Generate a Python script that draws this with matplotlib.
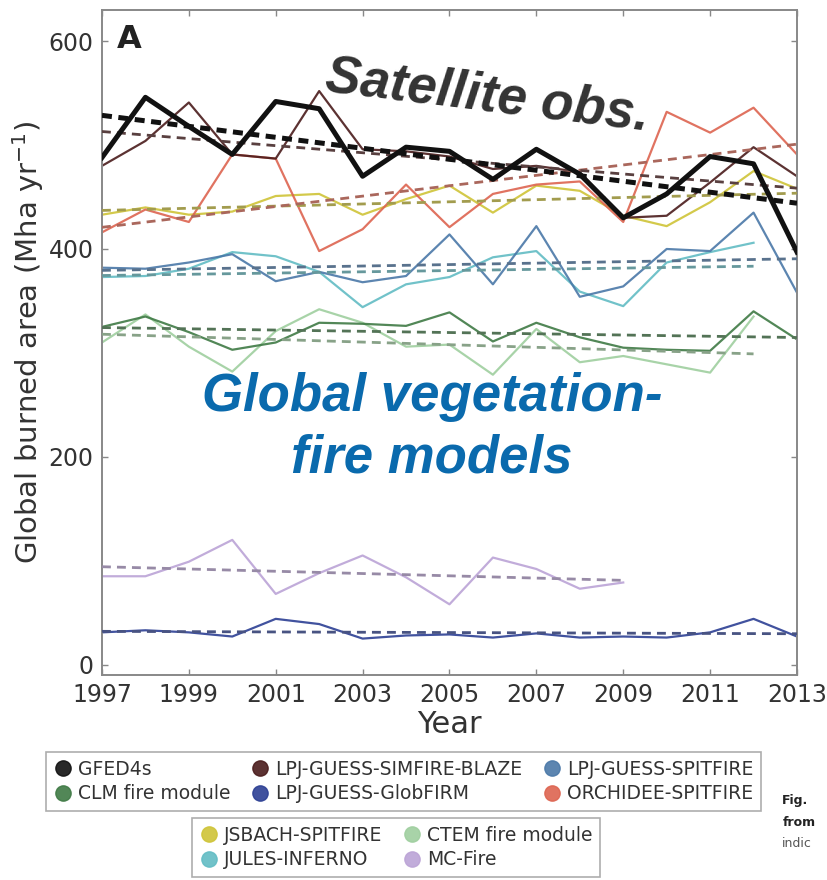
import numpy as np
import matplotlib
matplotlib.use("Agg")
import matplotlib.pyplot as plt
from matplotlib.lines import Line2D
from matplotlib.colors import to_rgb

# annual global burned area, Mha per year
years = np.arange(1997, 2014)

gfed4s        = [488, 546, 518, 491, 542, 535, 470, 498, 494, 467, 496, 472, 430, 453, 489, 482, 397]
simfire_blaze = [480, 504, 541, 491, 487, 552, 496, 494, 489, 477, 480, 474, 430, 432, 464, 498, 470]
orchidee      = [416, 438, 426, 491, 487, 398, 419, 462, 421, 453, 462, 465, 426, 532, 512, 536, 491]
jsbach        = [433, 440, 433, 436, 451, 453, 433, 448, 461, 435, 461, 456, 432, 422, 445, 475, 458]
lpj_spitfire  = [382, 381, 387, 395, 369, 378, 368, 374, 414, 366, 422, 354, 364, 400, 398, 435, 358]
jules         = [373, 374, 381, 397, 393, 378, 344, 366, 373, 392, 398, 359, 345, 387, 397, 406]
clm           = [325, 335, 320, 303, 310, 329, 328, 326, 339, 311, 329, 315, 305, 303, 302, 340, 313]
ctem          = [310, 337, 306, 282, 321, 342, 329, 306, 308, 279, 323, 291, 297, 289, 281, 335]
mc_fire       = [85, 85, 99, 120, 68, 88, 105, 84, 58, 103, 92, 73, 79]
globfirm      = [31, 33, 31, 27, 44, 39, 25, 28, 29, 26, 30, 26, 27, 26, 31, 44, 27]

# name, values, colour
models = [
    ("CTEM fire module",        ctem,          "#9fcf9f"),
    ("JULES-INFERNO",           jules,         "#62bcc4"),
    ("MC-Fire",                 mc_fire,       "#bba3d6"),
    ("LPJ-GUESS-GlobFIRM",      globfirm,      "#2c3f94"),
    ("CLM fire module",         clm,           "#3f7a45"),
    ("LPJ-GUESS-SPITFIRE",      lpj_spitfire,  "#4a78a8"),
    ("JSBACH-SPITFIRE",         jsbach,        "#cfc437"),
    ("ORCHIDEE-SPITFIRE",       orchidee,      "#dd6450"),
    ("LPJ-GUESS-SIMFIRE-BLAZE", simfire_blaze, "#4a1c1c"),
]
colors = {name: c for name, _, c in models}
colors["GFED4s"] = "#111111"

legend_top = ["GFED4s", "CLM fire module", "LPJ-GUESS-SIMFIRE-BLAZE",
              "LPJ-GUESS-GlobFIRM", "LPJ-GUESS-SPITFIRE", "ORCHIDEE-SPITFIRE"]
legend_bottom = ["JSBACH-SPITFIRE", "JULES-INFERNO", "CTEM fire module", "MC-Fire"]


def greyed(color, amount=0.45):
    r, g, b = to_rgb(color)
    grey = 0.42
    return (r * (1 - amount) + grey * amount,
            g * (1 - amount) + grey * amount,
            b * (1 - amount) + grey * amount)


def trend(ax, x, vals, color, lw, dashes):
    coef = np.polyfit(x, vals, 1)
    ends = x[[0, -1]]
    ax.plot(ends, np.polyval(coef, ends), color=color, lw=lw,
            linestyle=(0, dashes), solid_capstyle="butt", zorder=3)


fig = plt.figure(figsize=(8.27, 8.80), dpi=100)
ax = fig.add_axes([0.1233, 0.233, 0.8404, 0.7556])

for name, vals, c in models:
    x = years[:len(vals)]
    ax.plot(x, vals, color=c, lw=1.6, alpha=0.9, zorder=2)
    trend(ax, x, vals, greyed(c), 2.0, (3.2, 2.2))

ax.plot(years, gfed4s, color=colors["GFED4s"], lw=3.6, zorder=5)
trend(ax, years, gfed4s, colors["GFED4s"], 3.6, (2.0, 1.3))

ax.set_xlim(1997, 2013)
ax.set_ylim(-10, 630)
ax.set_xticks(np.arange(1997, 2014, 2))
ax.set_yticks([0, 200, 400, 600])
ax.tick_params(direction="in", length=4, width=1, top=True, right=True,
               colors="#888888", labelcolor="#333333", labelsize=17, pad=6)
for side in ax.spines.values():
    side.set_color("#888888")
    side.set_linewidth(1.4)

ax.set_xlabel("Year", fontsize=22, color="#333333", labelpad=2)
ax.set_ylabel("Global burned area (Mha yr$^{-1}$)", fontsize=21,
              color="#333333", labelpad=2)

ax.text(0.022, 0.955, "A", transform=ax.transAxes, fontsize=23,
        fontweight="bold", color="#222222", va="center", ha="left")

ax.text(0.555, 0.87, "Satellite obs.", transform=ax.transAxes,
        family="Liberation Sans", fontsize=38, fontweight="bold",
        style="italic", color="#333333", rotation=-7,
        ha="center", va="center", rotation_mode="anchor", zorder=6)
ax.text(0.475, 0.372, "Global vegetation-\nfire models", transform=ax.transAxes,
        family="Liberation Sans", fontsize=38, fontweight="bold",
        style="italic", color="#0a6aad", ha="center", va="center",
        multialignment="center", linespacing=1.3, zorder=6)


def handles(names):
    return [Line2D([], [], marker="o", ls="none", markersize=11,
                   markerfacecolor=colors[n], markeredgecolor=colors[n],
                   alpha=0.9, label=n) for n in names]


leg_kw = dict(frameon=True, fancybox=False, fontsize=13.5, labelcolor="#333333",
              handletextpad=0.3, columnspacing=1.1, labelspacing=0.3,
              borderpad=0.4, handlelength=1.0, edgecolor="#999999")

leg1 = fig.legend(handles=handles(legend_top), ncol=3, loc="center",
                  bbox_to_anchor=(0.488, 0.112), **leg_kw)
leg1.get_frame().set_linewidth(1.2)
leg2 = fig.legend(handles=handles(legend_bottom), ncol=2, loc="center",
                  bbox_to_anchor=(0.479, 0.037), **leg_kw)
leg2.get_frame().set_linewidth(1.2)

fig.text(0.946, 0.086, "Fig.", fontsize=9, fontweight="bold", color="#222222")
fig.text(0.946, 0.061, "from", fontsize=9, fontweight="bold", color="#222222")
fig.text(0.946, 0.038, "indic", fontsize=9, color="#555555")

fig.savefig("out.png", dpi=100)
